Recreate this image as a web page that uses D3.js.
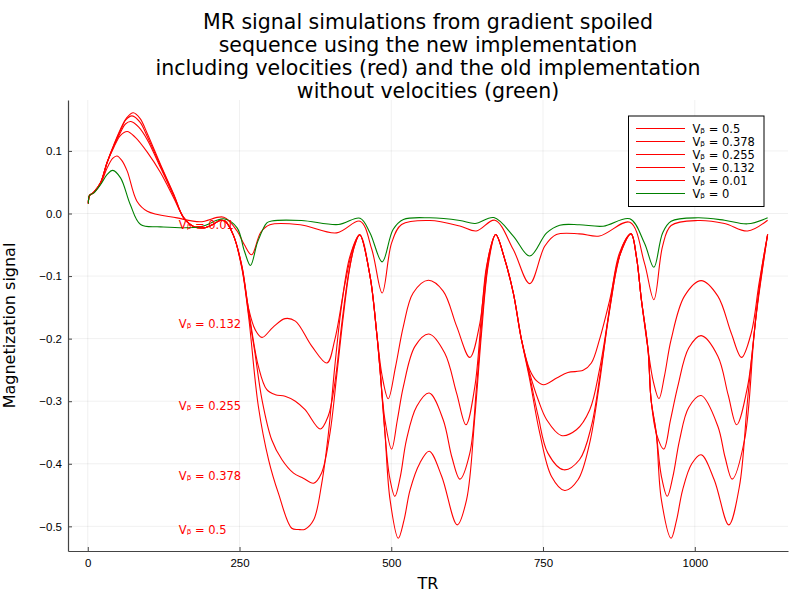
<!DOCTYPE html>
<html lang="en">
<head>
  <meta charset="UTF-8" />
  <title>MR signal simulations</title>
  <script src="https://d3js.org/d3.v7.min.js"></script>
  <style>
    body {
      margin: 0;
      background: #fff;
      font-family: "DejaVu Sans", sans-serif;
    }
    svg {
      display: block;
    }
    .grid line {
      stroke: #000;
      stroke-opacity: 0.1;
      stroke-width: 0.6;
    }
    .axis path,
    .axis line {
      stroke: #444;
    }
    .axis text {
      font-size: 11.5px;
      fill: #000;
    }
  </style>
</head>
<body>
<svg width="800" height="600"></svg>

<script>
  // values: [TR, magnetization signal]
  const vb050 = [
    [1, 0.016], [3, 0.029], [10, 0.034], [21, 0.049], [32, 0.082], [43, 0.11], [54, 0.135], [64, 0.153], [75, 0.161],
    [86, 0.152], [98, 0.128], [120, 0.078], [142, 0.030], [158, -0.007], [175, -0.021], [191, -0.023], [207, -0.017],
    [218, -0.011], [226, -0.012], [240, -0.035], [254, -0.088], [265, -0.165], [281, -0.308], [298, -0.394],
    [314, -0.447], [336, -0.503], [347, -0.505], [358, -0.5045], [372, -0.49], [385.5, -0.431], [396.5, -0.351],
    [407, -0.244], [418, -0.148], [432, -0.068], [448, -0.034], [465, -0.100], [476, -0.191], [481, -0.244],
    [489.6, -0.351], [498, -0.4576], [511.5, -0.519], [521, -0.49], [531, -0.4416], [547, -0.399], [562.5, -0.380],
    [583, -0.420], [608.6, -0.4976], [624, -0.4576], [637.7, -0.3243], [648.7, -0.191], [659.5, -0.084],
    [672, -0.0336], [686, -0.07], [701, -0.127], [714.5, -0.2016], [728, -0.265], [744.6, -0.351], [764, -0.4203],
    [785.7, -0.4427], [807.6, -0.4256], [826.8, -0.367], [843, -0.271], [860, -0.148], [876, -0.063],
    [895, -0.0325], [904, -0.07], [912, -0.1376], [923, -0.2176], [928, -0.2976], [936.5, -0.351], [945, -0.4576],
    [961, -0.519], [970, -0.49], [980, -0.4416], [995, -0.40], [1010.5, -0.3856], [1032, -0.4256], [1056, -0.4976],
    [1073.5, -0.4363], [1087, -0.2976], [1101, -0.1643], [1120, -0.0336]
  ];

  const vb0378 = [
    [1, 0.016], [3, 0.029], [10, 0.034], [21, 0.049], [32, 0.082], [43, 0.109], [54, 0.133], [63, 0.150], [73, 0.156],
    [86, 0.146], [98, 0.123], [120, 0.076], [142, 0.029], [158, -0.007], [175, -0.021], [191, -0.023], [207, -0.017],
    [218, -0.011], [226, -0.012], [240, -0.035], [254, -0.087], [265, -0.16], [275, -0.22], [287, -0.2976],
    [303, -0.3616], [320, -0.3936], [339, -0.415], [355, -0.423], [372, -0.431], [385, -0.415], [399, -0.351],
    [410, -0.260], [421, -0.164], [432, -0.084], [440, -0.05], [448, -0.034], [465, -0.100], [476, -0.191],
    [481, -0.244], [489.6, -0.351], [497, -0.42], [506, -0.452], [515, -0.42], [525, -0.3616], [542, -0.308],
    [562.5, -0.287], [585.5, -0.3296], [600, -0.39], [613, -0.4245], [629.4, -0.383], [640.5, -0.2763],
    [651, -0.1536], [662, -0.065], [672, -0.0336], [686, -0.07], [701, -0.127], [714.5, -0.2016], [728, -0.26],
    [742, -0.324], [758, -0.383], [784, -0.4096], [810, -0.3936], [829.6, -0.340], [846, -0.244], [862.5, -0.1376],
    [876, -0.068], [895, -0.0325], [904, -0.07], [912, -0.1376], [923, -0.2176], [928, -0.2976], [936.5, -0.351],
    [945, -0.42], [954.6, -0.452], [964, -0.42], [975, -0.3616], [990, -0.31], [1010.5, -0.291], [1038, -0.340],
    [1050, -0.39], [1061.5, -0.4245], [1082, -0.3616], [1098, -0.191], [1110, -0.09], [1120, -0.0336]
  ];

  const vb0255 = [
    [1, 0.016], [3, 0.029], [10, 0.034], [21, 0.049], [32, 0.082], [43, 0.108], [54, 0.130], [62, 0.143], [71, 0.147],
    [84, 0.138], [98, 0.118], [120, 0.073], [142, 0.027], [158, -0.007], [175, -0.021], [191, -0.023], [207, -0.017],
    [218, -0.011], [226, -0.012], [240, -0.035], [254, -0.085], [265, -0.154], [281, -0.244], [295, -0.2816],
    [309, -0.2896], [325, -0.292], [342, -0.300], [358, -0.3136], [383, -0.3445], [396, -0.324], [407, -0.271],
    [418, -0.180], [429, -0.100], [440, -0.050], [448, -0.034], [465, -0.100], [476, -0.191], [481, -0.244],
    [489.6, -0.33], [500.6, -0.3765], [510, -0.33], [520, -0.2763], [539, -0.2123], [562, -0.1925], [588, -0.223],
    [607.6, -0.287], [623, -0.3376], [637.7, -0.2763], [651, -0.1376], [662, -0.06], [672, -0.0336], [686, -0.07],
    [701, -0.127], [714.5, -0.2016], [728, -0.255], [742, -0.2976], [756, -0.3296], [780, -0.3547], [805, -0.3456],
    [827, -0.3136], [843, -0.2496], [857, -0.1696], [871, -0.0896], [884, -0.045], [895, -0.0325], [904, -0.07],
    [912, -0.1376], [923, -0.2176], [928, -0.2976], [936.5, -0.351], [949, -0.3765], [960, -0.33], [972, -0.2763],
    [990, -0.215], [1010.5, -0.1952], [1038, -0.228], [1055, -0.29], [1069, -0.3376], [1087, -0.2763],
    [1104, -0.1376], [1120, -0.0336]
  ];

  const vb0132 = [
    [1, 0.016], [3, 0.029], [10, 0.034], [21, 0.049], [32, 0.082], [43, 0.106], [54, 0.125], [65, 0.131], [78, 0.122],
    [98, 0.098], [120, 0.065], [142, 0.024], [158, -0.006], [175, -0.021], [191, -0.023], [207, -0.017],
    [218, -0.011], [226, -0.012], [240, -0.035], [254, -0.084], [265, -0.152], [276, -0.186], [287, -0.198],
    [305, -0.182], [325, -0.168], [342, -0.172], [369, -0.212], [394, -0.239], [407, -0.2016], [424, -0.111],
    [438, -0.052], [448, -0.034], [465, -0.100], [476, -0.191], [485, -0.26], [495, -0.296], [507, -0.245],
    [520, -0.180], [536, -0.127], [561, -0.1067], [585.5, -0.124], [607.6, -0.180], [629.4, -0.23], [646, -0.175],
    [657, -0.084], [672, -0.0336], [686, -0.07], [701, -0.127], [714.5, -0.2016], [728, -0.2496], [740, -0.268],
    [751, -0.2736], [772.5, -0.263], [791, -0.254], [816, -0.2507], [829.6, -0.239], [843, -0.2016], [860, -0.1376],
    [876, -0.068], [895, -0.0325], [904, -0.07], [912, -0.1376], [923, -0.2176], [932, -0.27], [941, -0.296],
    [950, -0.26], [961, -0.2016], [983, -0.132], [1010.5, -0.1072], [1038, -0.132], [1060, -0.191], [1077, -0.23],
    [1093, -0.191], [1106, -0.111], [1120, -0.0336]
  ];

  const vb001 = [
    [1, 0.016], [3, 0.029], [10, 0.033], [21, 0.047], [32, 0.073], [41, 0.088], [48, 0.092], [56, 0.085],
    [65, 0.0677], [81, 0.0197], [98, 0.0037], [147, -0.007], [185, -0.0133], [224, -0.0059], [246, -0.028],
    [258, -0.05], [270, -0.066], [285, -0.03], [300, -0.018], [350, -0.018], [410, -0.031], [448.5, -0.0123],
    [468, -0.0576], [485, -0.127], [500.6, -0.047], [517, -0.0176], [563.6, -0.0112], [613, -0.020], [640, -0.028],
    [670.6, -0.0107], [701, -0.0576], [728, -0.112], [753, -0.052], [772, -0.0336], [810, -0.0325], [843, -0.036],
    [893, -0.014], [917, -0.079], [932.6, -0.1376], [947, -0.052], [961, -0.0192], [1005, -0.0112], [1049, -0.016],
    [1087, -0.028], [1120, -0.0107]
  ];

  const vb000 = [
    [1, 0.016], [3, 0.029], [10, 0.033], [21, 0.046], [32, 0.0624], [41, 0.069], [54, 0.057], [70, 0.0144],
    [87, -0.0176], [120, -0.0213], [185, -0.0213], [224, -0.0085], [246, -0.023], [258, -0.06], [268, -0.083],
    [280, -0.045], [295, -0.015], [303, -0.012], [352, -0.0112], [413, -0.0176], [448.5, -0.0075], [465, -0.031],
    [485, -0.0773], [503, -0.0256], [520, -0.0096], [563.6, -0.0069], [613, -0.0112], [638, -0.016], [669, -0.0065],
    [701, -0.036], [728, -0.068], [756, -0.031], [777.5, -0.0187], [810, -0.018], [849, -0.0203], [893, -0.0085],
    [917, -0.047], [932.6, -0.086], [947, -0.031], [961, -0.0123], [1005, -0.0069], [1049, -0.0107],
    [1087, -0.0165], [1120, -0.0069]
  ];

  const seriesNames = ["Vᵦ = 0.5", "Vᵦ = 0.378", "Vᵦ = 0.255", "Vᵦ = 0.132", "Vᵦ = 0.01", "Vᵦ = 0"];
  const seriesData = [vb050, vb0378, vb0255, vb0132, vb001, vb000];
  const seriesColors = ["#ff0000", "#ff0000", "#ff0000", "#ff0000", "#ff0000", "#008000"];

  // in-plot labels: [TR, signal, text]
  const noteLabels = [
    [150, -0.019, "Vᵦ = 0.01"],
    [150, -0.176, "Vᵦ = 0.132"],
    [150, -0.307, "Vᵦ = 0.255"],
    [150, -0.419, "Vᵦ = 0.378"],
    [150, -0.505, "Vᵦ = 0.5"]
  ];

  const xTicks = [0, 250, 500, 750, 1000];
  const yTicks = [0.1, 0.0, -0.1, -0.2, -0.3, -0.4, -0.5];
  const titleLines = [
    "MR signal simulations from gradient spoiled",
    "sequence using the new implementation",
    "including velocities (red) and the old implementation",
    "without velocities (green)"
  ];

  const svg = d3.select("svg");
  const plot = { left: 68, right: 788, top: 100, bottom: 551 };

  // data limits widened by 3% on each side, like the original plot
  const allPts = seriesData.flat();
  const [x0, x1] = d3.extent(allPts, d => d[0]);
  const [y0, y1] = d3.extent(allPts, d => d[1]);
  const padX = (x1 - x0) * 0.03, padY = (y1 - y0) * 0.03;

  const x = d3.scaleLinear().domain([x0 - padX, x1 + padX]).range([plot.left, plot.right]);
  const y = d3.scaleLinear().domain([y0 - padY, y1 + padY]).range([plot.bottom, plot.top]);

  // grid
  svg.append("g").attr("class", "grid")
    .selectAll("line.v").data(xTicks).join("line")
    .attr("x1", d => x(d)).attr("x2", d => x(d))
    .attr("y1", plot.top).attr("y2", plot.bottom);
  svg.append("g").attr("class", "grid")
    .selectAll("line.h").data(yTicks).join("line")
    .attr("x1", plot.left).attr("x2", plot.right)
    .attr("y1", d => y(d)).attr("y2", d => y(d));

  // axes, ticks pointing inward
  svg.append("g").attr("class", "axis")
    .attr("transform", `translate(0,${plot.bottom})`)
    .call(d3.axisBottom(x).tickValues(xTicks).tickSizeInner(-4).tickSizeOuter(0).tickPadding(8).tickFormat(d3.format("d")))
    .call(g => g.select(".domain").attr("stroke-width", 1.2));
  svg.append("g").attr("class", "axis")
    .attr("transform", `translate(${plot.left},0)`)
    .call(d3.axisLeft(y).tickValues(yTicks).tickSizeInner(-4).tickSizeOuter(0).tickPadding(6).tickFormat(d3.format(".1f")))
    .call(g => g.select(".domain").attr("stroke-width", 1.2));

  // curves
  const line = d3.line()
    .x(d => x(d[0]))
    .y(d => y(d[1]))
    .curve(d3.curveCatmullRom.alpha(0.5));

  seriesData.forEach((data, i) => {
    svg.append("path")
      .datum(data)
      .attr("fill", "none")
      .attr("stroke", seriesColors[i])
      .attr("stroke-width", 1.1)
      .attr("d", line);
  });

  // annotations
  svg.append("g").selectAll("text").data(noteLabels).join("text")
    .attr("x", d => x(d[0]))
    .attr("y", d => y(d[1]))
    .attr("dy", "0.35em")
    .attr("fill", "#ff0000")
    .style("font-size", "11.5px")
    .text(d => d[2]);

  // legend
  const legend = svg.append("g");
  legend.append("rect")
    .attr("x", 628.5).attr("y", 116)
    .attr("width", 135.5).attr("height", 90.5)
    .attr("fill", "#fff").attr("stroke", "#000").attr("stroke-width", 1);
  seriesNames.forEach((name, i) => {
    const ly = 128.5 + i * 13;
    legend.append("line")
      .attr("x1", 636).attr("x2", 685)
      .attr("y1", ly).attr("y2", ly)
      .attr("stroke", seriesColors[i]).attr("stroke-width", 1.1);
    legend.append("text")
      .attr("x", 692.5).attr("y", ly).attr("dy", "0.35em")
      .style("font-size", "11.5px")
      .text(name);
  });

  // title and axis labels
  svg.append("g").selectAll("text").data(titleLines).join("text")
    .attr("x", (plot.left + plot.right) / 2)
    .attr("y", (d, i) => 21.5 + i * 23)
    .attr("dy", "0.35em")
    .attr("text-anchor", "middle")
    .style("font-size", "20.5px")
    .text(d => d);

  svg.append("text")
    .attr("x", (plot.left + plot.right) / 2)
    .attr("y", 583)
    .attr("dy", "0.35em")
    .attr("text-anchor", "middle")
    .style("font-size", "16px")
    .text("TR");

  svg.append("text")
    .attr("transform", `translate(9,${(plot.top + plot.bottom) / 2}) rotate(-90)`)
    .attr("dy", "0.35em")
    .attr("text-anchor", "middle")
    .style("font-size", "16px")
    .text("Magnetization signal");
</script>
</body>
</html>
